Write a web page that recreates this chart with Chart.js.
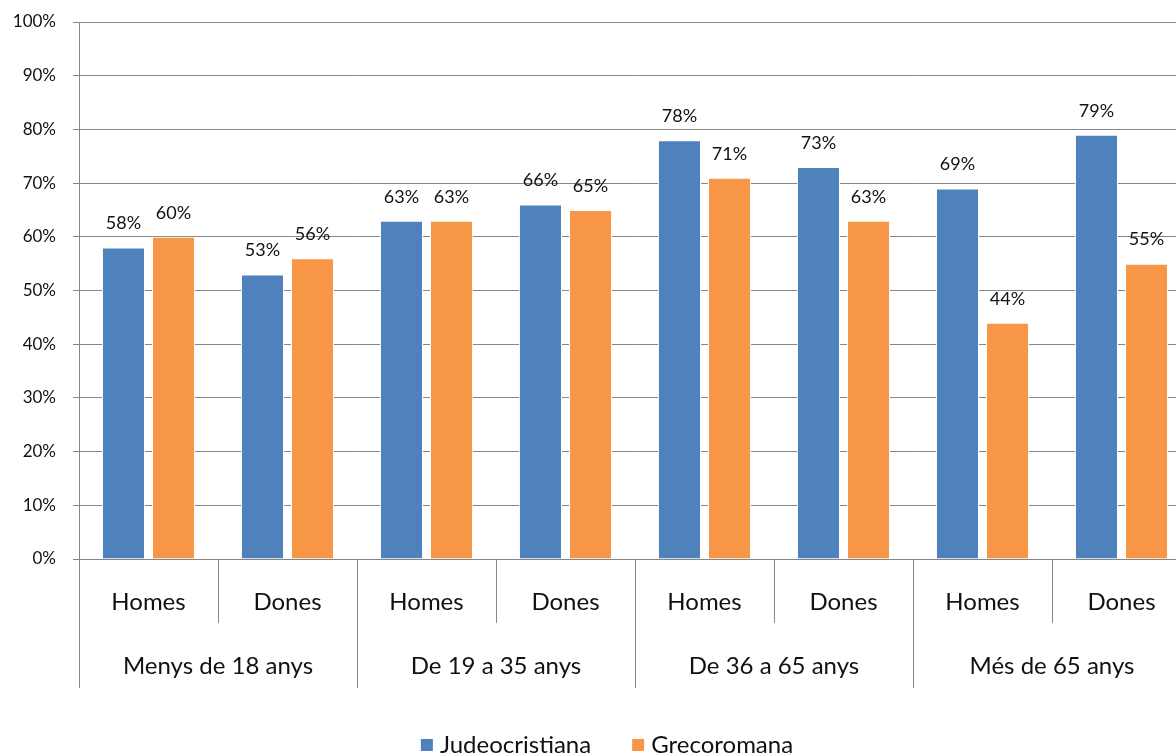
<!DOCTYPE html>
<html>
<head>
<meta charset="utf-8">
<script src="https://cdn.jsdelivr.net/npm/chart.js@4.4.1/dist/chart.umd.min.js"></script>
<style>
  html, body { margin: 0; padding: 0; background: #fff; overflow: hidden; }
  #caixa { width: 1191px; height: 755px; }
</style>
</head>
<body>
<div id="caixa"><canvas id="grafic"></canvas></div>
<script>
// dades del gràfic
const sexes = ['Homes', 'Dones', 'Homes', 'Dones', 'Homes', 'Dones', 'Homes', 'Dones'];
const grups = ['Menys de 18 anys', 'De 19 a 35 anys', 'De 36 a 65 anys', 'Més de 65 anys'];
const judeocristiana = [58, 53, 63, 66, 78, 73, 69, 79];
const grecoromana = [60, 56, 63, 65, 71, 63, 44, 55];

const gris = '#868686';
const font = 'Lato, "Noto Sans", sans-serif';

// etiquetes de valor, eix de categories en dos nivells i llegenda
const etiquetes = {
  id: 'etiquetes',
  afterDatasetsDraw(chart) {
    const ctx = chart.ctx;
    const area = chart.chartArea;
    const x = chart.scales.x;
    ctx.save();
    ctx.fillStyle = '#111';
    ctx.textAlign = 'center';
    ctx.textBaseline = 'middle';
    ctx.font = '18px ' + font;
    chart.data.datasets.forEach((ds, i) => {
      chart.getDatasetMeta(i).data.forEach((bar, j) => {
        ctx.fillText(ds.data[j] + '%', bar.x, bar.y - 24);
      });
    });

    const amp = (area.right - area.left) / sexes.length;
    ctx.strokeStyle = gris;
    ctx.lineWidth = 1;
    ctx.beginPath();
    for (let k = 0; k <= sexes.length; k++) {
      const px = Math.round(area.left + k * amp) + 0.5;
      ctx.moveTo(px, area.bottom);
      ctx.lineTo(px, k % 2 === 0 ? area.bottom + 129 : area.bottom + 64);
    }
    ctx.stroke();

    ctx.font = '24px ' + font;
    sexes.forEach((s, k) => {
      ctx.fillText(s, x.getPixelForValue(k), area.bottom + 43);
    });
    grups.forEach((g, k) => {
      ctx.fillText(g, area.left + (k * 2 + 1) * amp, area.bottom + 107);
    });

    // llegenda
    const ds = chart.data.datasets;
    const amples = ds.map(d => ctx.measureText(d.label).width);
    const total = amples.reduce((a, b) => a + b, 0) + ds.length * 19 + 41 * (ds.length - 1);
    let lx = 607 - total / 2;
    const ly = 745;
    ctx.textAlign = 'left';
    ds.forEach((d, i) => {
      ctx.fillStyle = d.backgroundColor;
      ctx.fillRect(lx, ly - 6, 12, 12);
      ctx.fillStyle = '#111';
      ctx.fillText(d.label, lx + 19, ly);
      lx += 19 + amples[i] + 41;
    });
    ctx.restore();
  }
};

const ctx = document.querySelector('#grafic').getContext('2d');
new Chart(ctx, {
  type: 'bar',
  data: {
    labels: sexes,
    datasets: [{
      label: 'Judeocristiana',
      data: judeocristiana,
      backgroundColor: '#4F81BD',
      borderColor: '#ffffff',
      borderWidth: 1,
      categoryPercentage: 0.72,
      barPercentage: 0.86
    }, {
      label: 'Grecoromana',
      data: grecoromana,
      backgroundColor: '#F79646',
      borderColor: '#ffffff',
      borderWidth: 1,
      categoryPercentage: 0.72,
      barPercentage: 0.86
    }]
  },
  options: {
    responsive: true,
    maintainAspectRatio: false,
    animation: false,
    layout: { padding: { top: 22, right: 0, left: 0, bottom: 0 } },
    scales: {
      x: {
        grid: { display: false },
        border: { display: false },
        ticks: { display: false },
        afterFit(scale) { scale.height = 196; }
      },
      y: {
        min: 0,
        max: 100,
        ticks: {
          stepSize: 10,
          padding: 17,
          color: '#111',
          font: { family: font, size: 17 },
          callback: v => v + '%'
        },
        grid: { color: gris, lineWidth: 1, tickLength: 6 },
        border: { color: gris, width: 1 },
        afterFit(scale) {
          scale.width = 79;
          scale.paddingTop = 0;
          scale.paddingBottom = 0;
        }
      }
    },
    plugins: {
      tooltip: { enabled: false },
      legend: { display: false }
    }
  },
  plugins: [etiquetes]
});
</script>
</body>
</html>
